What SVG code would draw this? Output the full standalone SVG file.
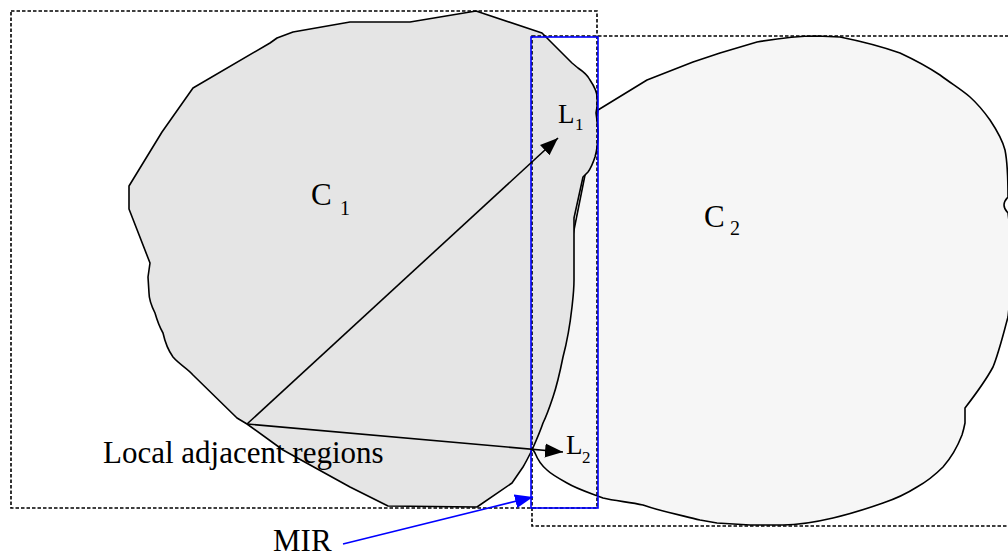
<svg xmlns="http://www.w3.org/2000/svg" width="1008" height="557" viewBox="0 0 1008 557">
<style>
.dot{fill:none;stroke:#000;stroke-width:1.6;stroke-dasharray:3.5,2}
.shape{stroke:#000;stroke-width:1.6;stroke-linejoin:round}
.arr{fill:none;stroke:#000;stroke-width:1.6}
.blue{fill:none;stroke:#0000ff;stroke-width:1.6}
text{font-family:'Liberation Serif',serif;fill:#000}
</style>
<defs>
<marker id="ah" markerUnits="userSpaceOnUse" markerWidth="19" markerHeight="16" refX="18" refY="8" orient="auto">
<path d="M0,1 L18,8 L0,15 z" fill="#000"/>
</marker>
<marker id="ahb" markerUnits="userSpaceOnUse" markerWidth="19" markerHeight="16" refX="18" refY="8" orient="auto">
<path d="M0,1 L18,8 L0,15 z" fill="#0000ff"/>
</marker>
</defs>
<rect width="1008" height="557" fill="#fff"/>
<g id="C2">
<path class="shape" fill="#f6f6f6" d="M598,110 L647,80 L693,62 L720,53 L757,42 C780,38 800,36 817,36 L840,37 C860,41 880,46 900,53 C915,60 928,67 940,75 C952,84 962,90 970,97 C980,106 985,113 990,120 C998,132 1003,142 1005,150 C1008,165 1008,185 1008,197 C1005,200 1004,203 1004,205 C1004,208 1006,211 1008,213 L1014,262 L1008,317 C1003,335 999,352 993,367 C985,382 975,395 965,408 L965,423 C964,428 963,432 962,435 C957,448 950,459 943,467 C935,475 926,482 917,487 C906,494 895,499 883,503 C866,509 850,514 833,518 C816,522 800,525 783,525 L750,525 L717,523 L700,520 C680,515 660,511 643,505 C630,502 615,501 603,498 C590,493 577,489 567,483 C558,478 551,474 547,470 C541,465 537,458 535,453 L532,448 L560,300 Z"/>
</g>
<g id="C1">
<path class="shape" fill="#e5e5e5" d="M476,11 L542,33 L572,63 L578,68 C584,72 588,76 590,80 C594,86 597,92 597,97 C598,103 597,108 596,113 C597,120 598,127 598,133 C598,142 597,150 595,157 C593,163 591,168 588,172 L583,177 L574,218 L574,280 C574,290 573,298 572,307 C570,325 567,342 563,357 C560,372 557,385 553,397 C550,406 547,415 543,423 C540,432 536,441 532,450 C529,456 526,462 523,467 L512,483 L477,507 L388,506 L350,487 L283,450 L247,424 L237,418 L193,375 C187,368 180,365 173,357 C168,350 165,342 163,333 C159,326 157,320 155,313 C151,305 149,299 149,293 L148,277 L150,263 L129,209 L129,186 L162,132 L193,88 L270,43 L277,38 L293,32 L350,22 L410,22 Z"/>
</g>
<g id="frames">
<rect class="dot" x="11" y="11" width="586" height="497"/>
<rect class="dot" x="532" y="36" width="490" height="490"/>
</g>
<g id="MIR-box">
<rect class="blue" x="531" y="37" width="67" height="471"/>
</g>
<g id="connectors">
<line class="arr" x1="247" y1="424" x2="558" y2="138" marker-end="url(#ah)"/>
<line class="arr" x1="247" y1="424" x2="563" y2="452" marker-end="url(#ah)"/>
<line class="blue" x1="343" y1="544" x2="533" y2="497" marker-end="url(#ahb)"/>
</g>
<g id="labels">
<text font-family="Liberation Serif, serif" x="311" y="205" font-size="31">C<tspan x="340" y="215" font-size="20">1</tspan></text>
<text font-family="Liberation Serif, serif" x="704" y="227" font-size="31">C<tspan x="730" y="235" font-size="20">2</tspan></text>
<text font-family="Liberation Serif, serif" x="558" y="123" font-size="27">L<tspan x="575" y="130" font-size="17">1</tspan></text>
<text font-family="Liberation Serif, serif" x="566" y="454" font-size="27">L<tspan x="582" y="463" font-size="17">2</tspan></text>
<text font-family="Liberation Serif, serif" x="103" y="463" font-size="31">Local adjacent regions</text>
<text font-family="Liberation Serif, serif" x="273" y="551" font-size="31">MIR</text>
</g>
</svg>
